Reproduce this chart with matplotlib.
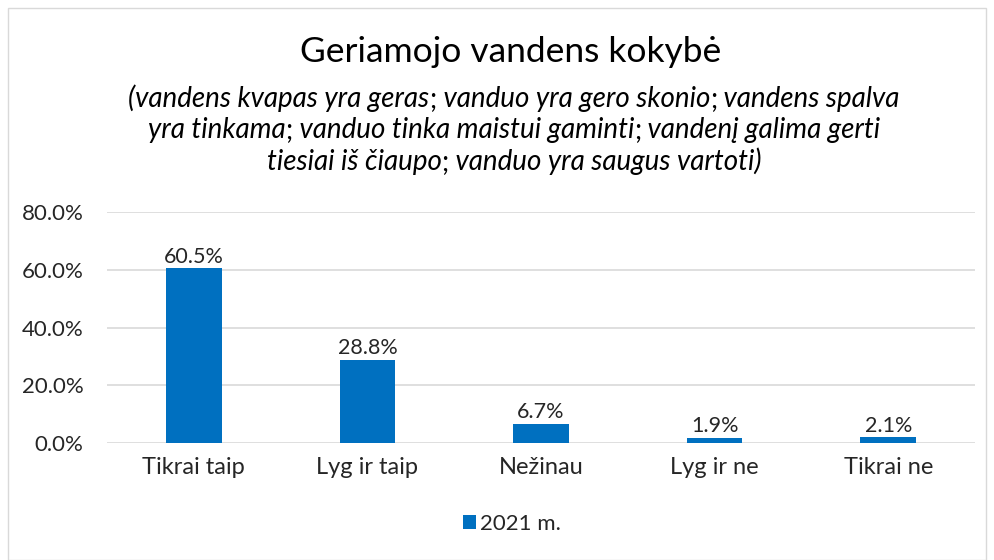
import matplotlib
matplotlib.use("Agg")
import matplotlib.pyplot as plt
from matplotlib.offsetbox import TextArea, HPacker, AnnotationBbox
from matplotlib.patches import Rectangle
from matplotlib.ticker import FuncFormatter

categories = ["Tikrai taip", "Lyg ir taip", "Nežinau", "Lyg ir ne", "Tikrai ne"]
values = [60.5, 28.8, 6.7, 1.9, 2.1]
series_name = "2021 m."
title = "Geriamojo vandens kokybė"
subtitle_lines = [
    ["(vandens kvapas yra geras", ";", " vanduo yra gero skonio", ";", " vandens spalva"],
    ["yra tinkama", ";", " vanduo tinka maistui gaminti", ";", " vandenį galima gerti"],
    ["tiesiai iš čiaupo", ";", " vanduo yra saugus vartoti)"],
]
yticks = [0, 20, 40, 60, 80]

FONT = "Lato"
plt.rcParams['font.family'] = [FONT, 'DejaVu Sans']
color = "#0070C0"
textc = "#262626"

fig = plt.figure(figsize=(9.94, 5.6), dpi=100)
fig.patches.append(Rectangle((8/994, 0), 1 - 16/994, 1 - 8/560, transform=fig.transFigure,
                             fill=False, edgecolor="#d9d9d9", linewidth=1.0))

ax = fig.add_axes([107/994, 1 - 443/560, (975 - 107)/994, (443 - 212)/560])
x = list(range(len(categories)))
bars = ax.bar(x, values, width=0.32, color=color, label=series_name, zorder=3)
ax.set_xlim(-0.5, len(categories) - 0.5)
ax.set_ylim(0, 80)
ax.set_yticks(yticks)
ax.yaxis.set_major_formatter(FuncFormatter(lambda v, p: f"{v:.1f}%"))
ax.set_xticks(x)
ax.set_xticklabels(categories)
ax.tick_params(axis='both', length=0, labelsize=16, colors=textc)
ax.tick_params(axis='x', pad=10, labelsize=17)
ax.tick_params(axis='y', pad=17)
for s in ax.spines.values():
    s.set_visible(False)
ax.grid(axis='y', color="#d9d9d9", linewidth=1.2, zorder=0)
ax.set_axisbelow(True)

for xi, v in zip(x, values):
    ax.annotate(f"{v:.1f}%", (xi, v), xytext=(0, 1), textcoords="offset points",
                ha="center", va="bottom", fontsize=15.5, color=textc)

fig.text(511/994, 1 - 52/560, title, ha="center", va="center", fontsize=25.5, color="black")

line_y = [98, 130, 161]
for parts, yy in zip(subtitle_lines, line_y):
    children = []
    for p in parts:
        style = "normal" if p == ";" else "italic"
        children.append(TextArea(p, textprops=dict(fontsize=20, fontstyle=style, color="black",
                                                   family=[FONT, 'DejaVu Sans'])))
    pack = HPacker(children=children, pad=0, sep=0, align="baseline")
    ab = AnnotationBbox(pack, (514/994, 1 - yy/560), xycoords=fig.transFigure,
                        frameon=False, box_alignment=(0.5, 0.5), pad=0)
    fig.add_artist(ab)

leg = fig.legend(handles=[bars], labels=[series_name], loc="center",
                 bbox_to_anchor=(512/994, 1 - 524/560), frameon=False, fontsize=16,
                 handlelength=0.6, handleheight=0.6, handletextpad=0.2)
for t in leg.get_texts():
    t.set_color(textc)

fig.savefig("out.png", dpi=100)
